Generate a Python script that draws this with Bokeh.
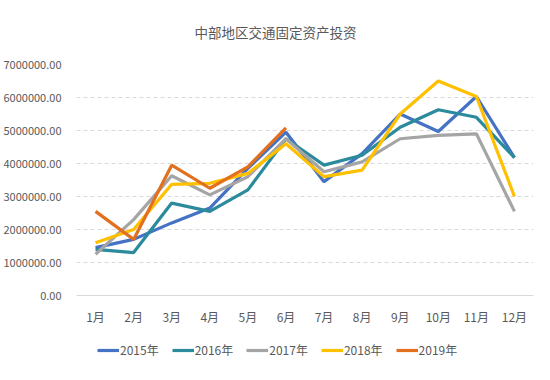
from bokeh.plotting import figure
from bokeh.layouts import column
from bokeh.models import FixedTicker, NumeralTickFormatter, Legend, LegendItem, FactorRange, Range1d, Title
from bokeh.embed import file_html
from bokeh.resources import INLINE

months = ["1月", "2月", "3月", "4月", "5月", "6月", "7月", "8月", "9月", "10月", "11月", "12月"]
y2015 = [1450000, 1700000, 2200000, 2650000, 3850000, 4950000, 3450000, 4300000, 5500000, 4970000, 6030000, 4180000]
y2016 = [1400000, 1300000, 2800000, 2550000, 3200000, 4750000, 3950000, 4250000, 5100000, 5630000, 5400000, 4180000]
y2017 = [1250000, 2300000, 3630000, 3050000, 3600000, 4750000, 3750000, 4050000, 4750000, 4850000, 4900000, 2550000]
y2018 = [1600000, 2000000, 3370000, 3400000, 3700000, 4600000, 3600000, 3800000, 5500000, 6500000, 6030000, 3000000]
y2019 = [2550000, 1700000, 3950000, 3250000, 3900000, 5080000]
series_names = ["2015年", "2016年", "2017年", "2018年", "2019年"]
y_ticks = [0, 1000000, 2000000, 3000000, 4000000, 5000000, 6000000, 7000000]

colors = ["#4472C4", "#2B8A9C", "#A5A5A5", "#FFC000", "#E3701E"]
FONT = "Noto Sans CJK SC"
TXT = "#595959"

p = figure(width=534, height=336, x_range=FactorRange(*months), y_range=Range1d(0, 7000000),
           output_backend="svg", toolbar_location=None, title=None,
           min_border_left=72, min_border_right=1, min_border_top=64, min_border_bottom=41)
# spacer title (nearest the frame), then the real title above it
p.add_layout(Title(text=" ", text_font_size="1px", standoff=20), "above")
p.add_layout(Title(text="中部地区交通固定资产投资", align="left", offset=118,
                   text_font=FONT, text_font_size="13.5px", text_font_style="normal",
                   text_color=TXT, standoff=0), "above")
p.outline_line_color = None
p.border_fill_color = "white"

series = [y2015, y2016, y2017, y2018, y2019]
for name, vals, c in zip(series_names, series, colors):
    p.line(months[:len(vals)], vals, line_color=c, line_width=3.2)

p.yaxis.ticker = FixedTicker(ticks=y_ticks)
p.yaxis.formatter = NumeralTickFormatter(format="0.00")
p.yaxis.axis_line_color = None
p.yaxis.major_tick_line_color = None
p.yaxis.minor_tick_line_color = None
p.yaxis.major_label_text_font = FONT
p.yaxis.major_label_text_font_size = "11px"
p.yaxis.major_label_text_color = TXT
p.yaxis.major_label_standoff = 9

p.xaxis.axis_line_color = "#D9D9D9"
p.xaxis.axis_line_width = 1
p.xaxis.major_tick_line_color = None
p.xaxis.minor_tick_line_color = None
p.xaxis.major_label_text_font = FONT
p.xaxis.major_label_text_font_size = "12px"
p.xaxis.major_label_text_color = TXT
p.xaxis.major_label_standoff = 6

p.xgrid.grid_line_color = None
p.ygrid.grid_line_color = "#D9D9D9"
p.ygrid.grid_line_dash = "4 3"

# legend strip
lf = figure(width=534, height=28, output_backend="svg", toolbar_location=None,
            x_range=Range1d(0, 1), y_range=Range1d(0, 1),
            x_axis_location=None, y_axis_location=None,
            min_border_left=0, min_border_right=0, min_border_top=0, min_border_bottom=0)
lf.grid.grid_line_color = None
lf.outline_line_color = None
items = []
for name, c in zip(series_names, colors):
    r = lf.line([-5, -4], [-5, -4], line_color=c, line_width=3.2)
    items.append(LegendItem(label=name, renderers=[r]))
legend = Legend(items=items, orientation="horizontal", location=(21, 6),
                label_text_font=FONT, label_text_font_size="12px", label_text_color=TXT,
                glyph_width=22, glyph_height=10, spacing=13, label_standoff=1,
                border_line_color=None, background_fill_alpha=0, margin=0, padding=0)
lf.add_layout(legend, "center")

layout = column(p, lf, spacing=0)
open("out.html", "w").write(file_html(layout, INLINE))
